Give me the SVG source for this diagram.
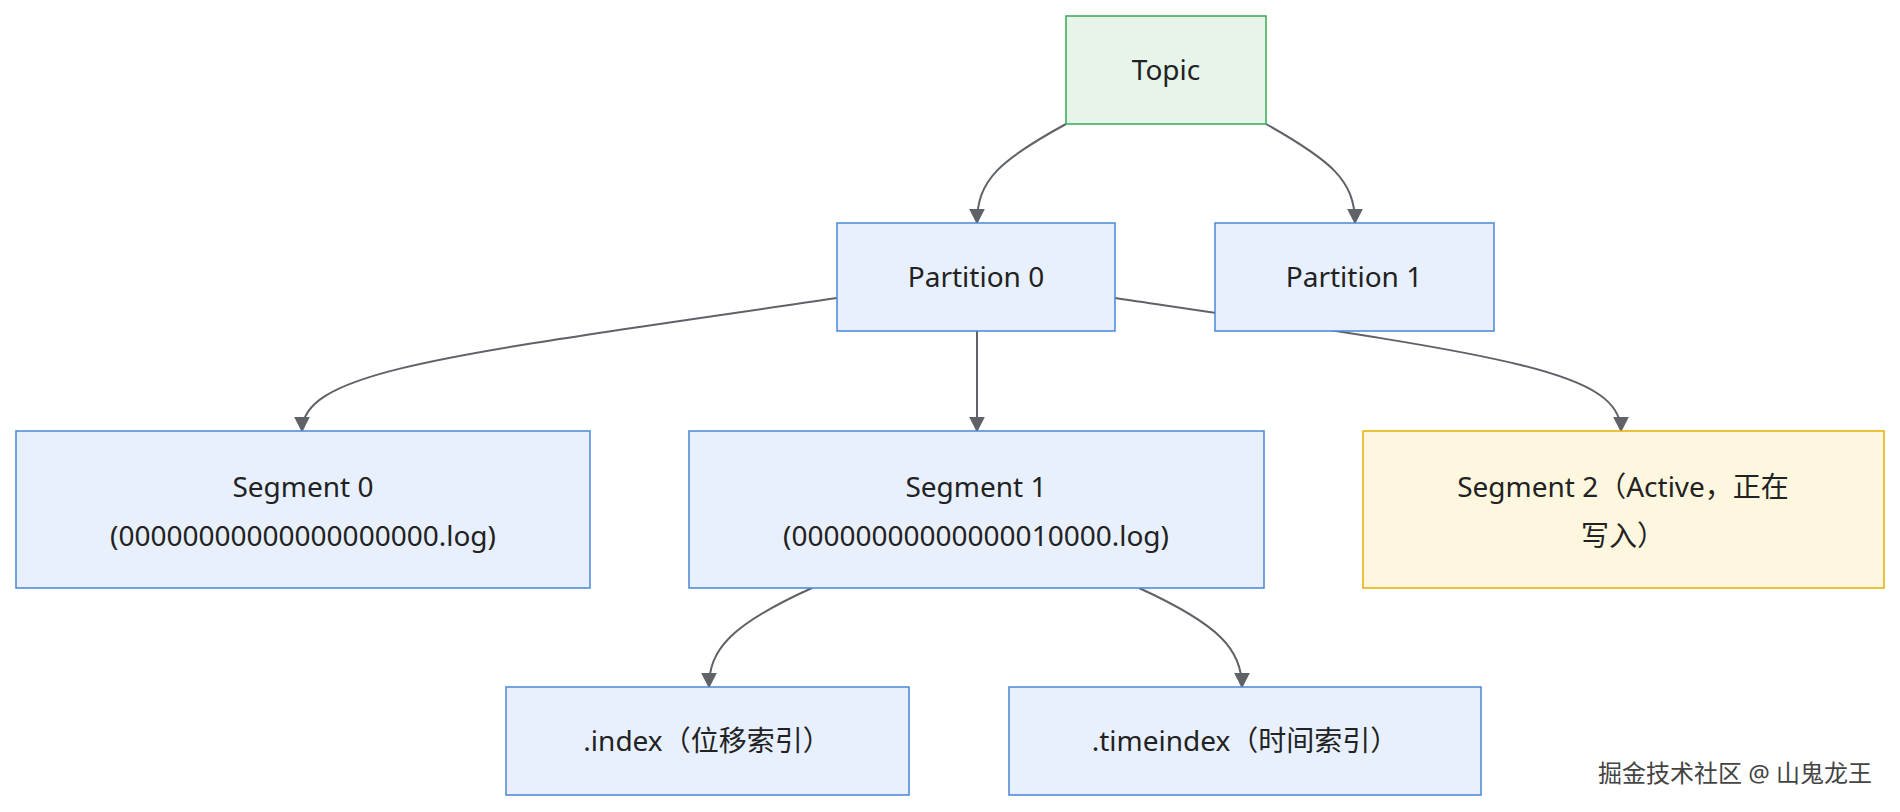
<svg xmlns="http://www.w3.org/2000/svg" width="1900" height="812" viewBox="0 0 1900 812">
<style>
.n{fill:#e8f0fd;stroke:#4a86d8;stroke-width:1.5}
.g{fill:#e6f4ea;stroke:#34a853;stroke-width:1.5}
.y{fill:#fef7e0;stroke:#e6b000;stroke-width:1.5}
text{font-family:"Noto Sans","Noto Sans CJK SC",sans-serif;font-size:28px;fill:#222;text-anchor:middle}
.e{fill:none;stroke:#5f6368;stroke-width:2;marker-end:url(#a)}
</style>
<defs><marker id="a" viewBox="0 0 10 10" refX="9" refY="5" markerWidth="8" markerHeight="8" orient="auto"><path d="M0,0L10,5L0,10z" fill="#5f6368"/></marker></defs>
<rect width="1900" height="812" fill="#fff"/>
<g id="edges">
<path class="e" d="M1066,124 C1000,160 977,180 977,223"/>
<path class="e" d="M1266,124 C1330,160 1355,180 1355,223"/>
<path class="e" d="M837,298 C450,355 302,370 302,431"/>
<path class="e" d="M977,331 L977,431"/>
<path class="e" d="M1115,298 C1500,355 1621,370 1621,431"/>
<path class="e" d="M812,588 C730,625 709,650 709,687"/>
<path class="e" d="M1139,588 C1220,625 1242,650 1242,687"/>
</g>
<g id="topic"><rect class="g" x="1066" y="16" width="200" height="108"/><text x="1166" y="80">Topic</text></g>
<g id="p0"><rect class="n" x="837" y="223" width="278" height="108"/><text x="976" y="287">Partition 0</text></g>
<g id="p1"><rect class="n" x="1215" y="223" width="279" height="108"/><text x="1354" y="287">Partition 1</text></g>
<g id="s0"><rect class="n" x="16" y="431" width="574" height="157"/><text x="303" y="497">Segment 0</text><text x="303" y="546">(00000000000000000000.log)</text></g>
<g id="s1"><rect class="n" x="689" y="431" width="575" height="157"/><text x="976" y="497">Segment 1</text><text x="976" y="546">(00000000000000010000.log)</text></g>
<g id="s2"><rect class="y" x="1363" y="431" width="521" height="157"/><text x="1623" y="497">Segment 2（Active，正在</text><text x="1623" y="546">写入）</text></g>
<g id="idx"><rect class="n" x="506" y="687" width="403" height="108"/><text x="707" y="751">.index（位移索引）</text></g>
<g id="tidx"><rect class="n" x="1009" y="687" width="472" height="108"/><text x="1245" y="751">.timeindex（时间索引）</text></g>
<text x="1872" y="782" style="text-anchor:end;font-size:24px;fill:#444">掘金技术社区 @ 山鬼龙王</text>
</svg>
